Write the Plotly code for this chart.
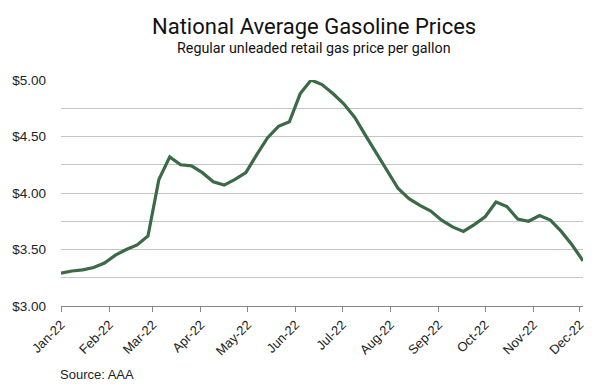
import plotly.graph_objects as go
import pandas as pd

# Weekly national average regular gasoline price (USD/gal), 2022
dates = pd.date_range("2022-01-01", periods=49, freq="7D")
prices = [
    3.29, 3.31, 3.32, 3.34, 3.38, 3.45, 3.50, 3.54, 3.62, 4.12,
    4.32, 4.25, 4.24, 4.18, 4.10, 4.07, 4.12, 4.18, 4.34, 4.49,
    4.59, 4.63, 4.88, 5.00, 4.96, 4.88, 4.79, 4.67, 4.51, 4.35,
    4.20, 4.04, 3.95, 3.89, 3.84, 3.76, 3.70, 3.66, 3.72, 3.79,
    3.92, 3.88, 3.77, 3.75, 3.80, 3.76, 3.66, 3.54, 3.40,
]

month_ticks = pd.date_range("2022-01-01", "2022-12-01", freq="MS")
y_grid = [3.00, 3.25, 3.50, 3.75, 4.00, 4.25, 4.50, 4.75, 5.00]
y_labels = ["$3.00", "", "$3.50", "", "$4.00", "", "$4.50", "", "$5.00"]

title = "National Average Gasoline Prices"
subtitle = "Regular unleaded retail gas price per gallon"
source = "Source: AAA"

line_color = "#3b6b46"
tick_font = dict(family="Liberation Sans, Arial, sans-serif", size=13, color="#222222")
ytick_font = dict(family="Liberation Sans, Arial, sans-serif", size=13.5, color="#222222")

fig = go.Figure()
fig.add_trace(go.Scatter(
    x=dates, y=prices, mode="lines",
    line=dict(color=line_color, width=3.2),
    hoverinfo="skip", showlegend=False,
))

fig.update_layout(
    width=598, height=383,
    margin=dict(l=53, r=23, t=72, b=85),
    paper_bgcolor="white", plot_bgcolor="white",
    showlegend=False,
    xaxis=dict(
        type="date",
        range=[dates[0], dates[-1]],
        tickvals=list(month_ticks),
        ticktext=[d.strftime("%b-%y") for d in month_ticks],
        tickangle=-45,
        ticks="outside", ticklen=5, tickcolor="#868686", tickwidth=1,
        showline=True, linecolor="#868686", linewidth=1,
        showgrid=False, zeroline=False, automargin=False,
        tickfont=tick_font,
    ),
    yaxis=dict(
        range=[3, 5],
        tickvals=y_grid, ticktext=y_labels,
        showgrid=True, gridcolor="#c4c4c4", gridwidth=1,
        zeroline=False, showline=False, ticks="",
        ticklabelstandoff=14, automargin=False,
        tickfont=ytick_font,
    ),
    annotations=[
        dict(text=title, xref="paper", yref="paper", x=0.485, y=1.237,
             xanchor="center", yanchor="middle", showarrow=False,
             font=dict(family="Roboto, sans-serif", size=22, color="#111111")),
        dict(text=subtitle, xref="paper", yref="paper", x=0.485, y=1.14,
             xanchor="center", yanchor="middle", showarrow=False,
             font=dict(family="Roboto, sans-serif", size=14.3, color="#111111")),
        dict(text=source, xref="paper", yref="paper", x=-0.006, y=-0.302,
             xanchor="left", yanchor="middle", showarrow=False,
             font=tick_font),
    ],
)

fig.write_html("out.html")
